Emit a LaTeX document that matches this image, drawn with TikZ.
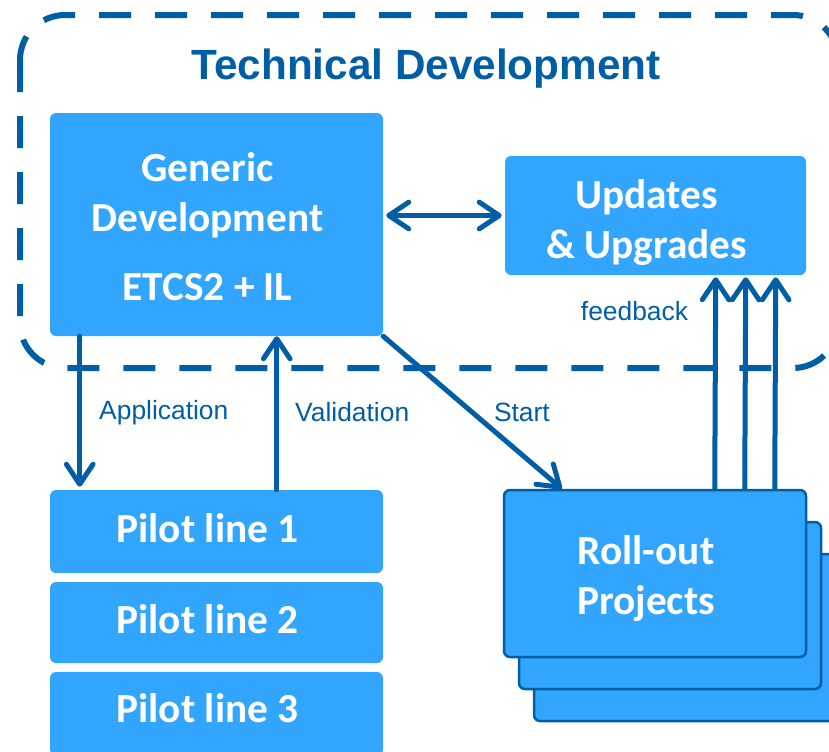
\documentclass[tikz,border=0pt]{standalone}
\usepackage{fontspec}
\setmainfont{Liberation Sans}
\newfontfamily\boxfont{Carlito}
\usetikzlibrary{arrows.meta,positioning}

\definecolor{darkblue}{RGB}{0,94,166}
\definecolor{lightblue}{RGB}{50,165,255}
\newdimen\px \px=0.75pt

\tikzset{
  barb/.tip={Straight Barb[length=15pt, width=20pt, round]},
  blockbox/.style={fill=lightblue, rounded corners=6\px, inner sep=0pt},
  blocktext/.style={text=white, inner sep=0pt, align=center, xshift=-9\px,
    font=\boxfont\bfseries\fontsize{31}{37.5}\selectfont},
  rollbox/.style={blockbox, draw=darkblue, line width=2.5\px},
  flow/.style={draw=darkblue, line width=5\px, line cap=round, -barb},
  lbl/.style={text=darkblue, inner sep=0pt, font=\fontsize{19.8}{22}\selectfont}
}

\begin{document}
\begin{tikzpicture}[x=0.75pt, y=-0.75pt]
\useasboundingbox (0,0) rectangle (829,751);

% Dashed frame round the technical part
\draw[darkblue, line width=6\px, dash pattern=on 24pt off 18pt, rounded corners=45\px]
  (20,15) rectangle (838,368);
\node[text=darkblue, font=\bfseries\fontsize{31.7}{36}\selectfont] (title) at (426,69) {Technical Development};

% Blocks
\node[blockbox, minimum width=333\px, minimum height=223\px,
  label={[blocktext, yshift=-2\px]center:Generic\\Development\\[14pt]ETCS2 + IL}] (gen) at (216.5,224.5) {};
\node[blockbox, minimum width=301\px, minimum height=119\px,
  label={[blocktext, yshift=-7\px]center:Updates\\\& Upgrades}] (upd) at (655.5,215.5) {};

\node[blockbox, minimum width=333\px, minimum height=83\px,
  label={[blocktext, yshift=3\px]center:Pilot line 1}] (pilot1) at (216.5,531.5) {};
\node[blockbox, minimum width=333\px, minimum height=81\px,
  label={[blocktext, yshift=3\px]center:Pilot line 2}] (pilot2) at (216.5,622.5) {};
\node[blockbox, minimum width=333\px, minimum height=83\px,
  label={[blocktext, yshift=5\px]center:Pilot line 3}] (pilot3) at (216.5,713.5) {};

% Stack of roll-out projects
\node[rollbox, minimum width=302\px, minimum height=167\px] (roll3) at (685,637.5) {};
\node[rollbox, minimum width=302\px, minimum height=167\px] (roll2) at (670,605.5) {};
\node[rollbox, minimum width=302\px, minimum height=167\px,
  label={[blocktext, yshift=-5\px]center:Roll-out\\Projects}] (roll1) at (655,573.5) {};

% Arrows between blocks
\draw[flow, barb-barb] ([xshift=3\px]gen.east |- upd.west) -- ([xshift=-3\px]upd.west);
\draw[flow] ([xshift=30\px]gen.south west) -- node[lbl, right=17\px, yshift=-1\px] {Application} ([xshift=30\px,yshift=3\px]pilot1.north west);
\draw[flow] ([xshift=227\px]pilot1.north west) -- node[lbl, right=16\px, yshift=1\px] {Validation} ([xshift=227\px]gen.south west);
\draw[flow] (gen.south east) -- node[lbl, right=19\px] {Start} ([xshift=59\px]roll1.north west);

% Feedback from the projects
\draw[flow] ([xshift=212\px]roll1.north west) -- node[lbl, left=25\px, pos=0.84] {feedback} ([xshift=211\px,yshift=-2\px]upd.south west);
\draw[flow] ([xshift=242\px]roll1.north west) -- ([xshift=241\px,yshift=-2\px]upd.south west);
\draw[flow] ([xshift=272\px]roll1.north west) -- ([xshift=271\px,yshift=-2\px]upd.south west);

\end{tikzpicture}
\end{document}
